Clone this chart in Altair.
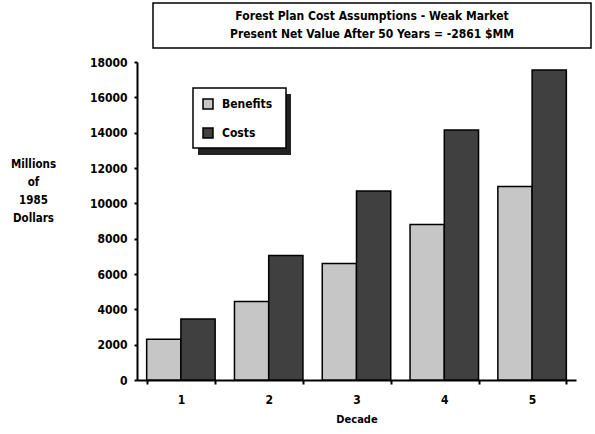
import altair as alt
import pandas as pd

# Values in millions of 1985 dollars, by decade
decades = ["1", "2", "3", "4", "5"]
benefits = [2300, 4450, 6600, 8800, 10950]
costs = [3450, 7050, 10700, 14150, 17550]

series_names = ["Benefits", "Costs"]
series_colors = ["#c6c6c6", "#404040"]

title_lines = [
    "Forest Plan Cost Assumptions - Weak Market",
    "Present Net Value After 50 Years = -2861 $MM",
]
y_title_lines = ["Millions", "of", "1985", "Dollars"]
y_ticks = list(range(0, 18001, 2000))

FONT = "'DejaVu Sans Condensed', 'Liberation Sans', sans-serif"

rows = []
for d, b, c in zip(decades, benefits, costs):
    rows.append({"Decade": d, "Series": "Benefits", "Value": b})
    rows.append({"Decade": d, "Series": "Costs", "Value": c})
df = pd.DataFrame(rows)

W, H = 439, 318

bars = alt.Chart(df).mark_bar(stroke="black", strokeWidth=1.5).encode(
    x=alt.X(
        "Decade:O",
        scale=alt.Scale(paddingInner=0.22, paddingOuter=0.11),
        axis=alt.Axis(
            title="Decade",
            labelAngle=0,
            tickBand="extent",
            tickSize=4,
            tickWidth=2,
            tickColor="black",
            domainColor="black",
            domainWidth=2,
            labelFont=FONT,
            labelFontSize=12,
            labelFontWeight="bold",
            labelColor="black",
            labelPadding=10,
            titleFont=FONT,
            titleFontSize=11,
            titleFontWeight="bold",
            titleColor="black",
            titlePadding=8,
        ),
    ),
    xOffset=alt.XOffset(
        "Series:N",
        sort=series_names,
        scale=alt.Scale(paddingInner=0, paddingOuter=0),
    ),
    y=alt.Y(
        "Value:Q",
        scale=alt.Scale(domain=[0, 18000], nice=False),
        axis=alt.Axis(
            values=y_ticks,
            format="d",
            grid=False,
            tickSize=3,
            tickWidth=2,
            tickColor="black",
            domainColor="black",
            domainWidth=2,
            labelFont=FONT,
            labelFontSize=12,
            labelFontWeight="bold",
            labelColor="black",
            labelPadding=7,
            title=y_title_lines,
            titleAngle=0,
            titleX=-104,
            titleY=96,
            titleAlign="center",
            titleBaseline="top",
            titleLineHeight=18,
            titleFont=FONT,
            titleFontSize=11.5,
            titleFontWeight="bold",
            titleColor="black",
        ),
    ),
    color=alt.Color(
        "Series:N",
        scale=alt.Scale(domain=series_names, range=series_colors),
        legend=None,
    ),
)

one = alt.Data(values=[{}])

# Boxed two-line heading
title_box = alt.Chart(one).mark_rect(fill="white", stroke="black", strokeWidth=1.5).encode(
    x=alt.value(16), x2=alt.value(454), y=alt.value(-59), y2=alt.value(-14)
)
title_text = alt.Chart(one).mark_text(
    font=FONT, fontSize=12, fontWeight="bold", color="black",
    align="center", baseline="middle", lineHeight=18,
).encode(
    x=alt.value(235), y=alt.value(-46), text=alt.value(title_lines)
)

# Legend panel with drop shadow
shadow = alt.Chart(one).mark_rect(fill="#222222").encode(
    x=alt.value(61), x2=alt.value(154), y=alt.value(32), y2=alt.value(93)
)
legend_box = alt.Chart(one).mark_rect(fill="white", stroke="black", strokeWidth=1.5).encode(
    x=alt.value(56), x2=alt.value(149), y=alt.value(26), y2=alt.value(86)
)

legend_layers = []
for name, color, top in zip(series_names, series_colors, [37, 66]):
    legend_layers.append(
        alt.Chart(one).mark_rect(fill=color, stroke="black", strokeWidth=1.5).encode(
            x=alt.value(66), x2=alt.value(76), y=alt.value(top), y2=alt.value(top + 10)
        )
    )
    legend_layers.append(
        alt.Chart(one).mark_text(
            font=FONT, fontSize=12, fontWeight="bold", color="black",
            align="left", baseline="middle",
        ).encode(x=alt.value(85), y=alt.value(top + 5), text=alt.value(name))
    )

chart = alt.layer(
    bars, title_box, title_text, shadow, legend_box, *legend_layers
).properties(
    width=W,
    height=H,
    autosize=alt.AutoSizeParams(type="none"),
    padding={"left": 137, "top": 62, "right": 19, "bottom": 54},
    background="white",
).configure_view(stroke=None)

chart.save("out.html", embed_options={"renderer": "svg", "actions": False})
